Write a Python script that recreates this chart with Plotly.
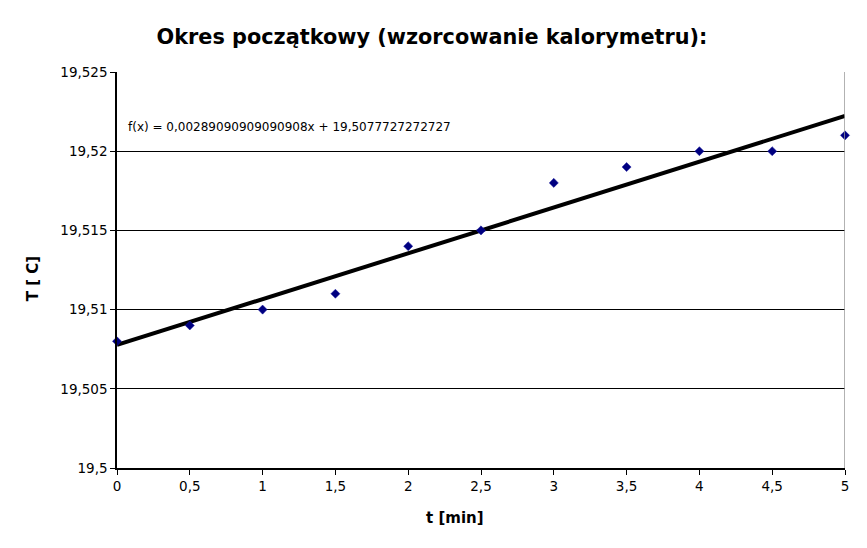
import numpy as np
import plotly.graph_objects as go

t_min = [0, 0.5, 1, 1.5, 2, 2.5, 3, 3.5, 4, 4.5, 5]
temp = [19.508, 19.509, 19.510, 19.511, 19.514, 19.515, 19.518, 19.519, 19.520, 19.520, 19.521]
title = "Okres początkowy (wzorcowanie kalorymetru):"
eq_text = "f(x) = 0,00289090909090908x + 19,5077727272727"
x_title = "t [min]"
y_title = "T [ C]"

slope, intercept = np.polyfit(t_min, temp, 1)
fit_x = [0, 5]
fit_y = [intercept + slope * v for v in fit_x]

fig = go.Figure()
fig.add_trace(go.Scatter(x=fit_x, y=fit_y, mode="lines",
                         line=dict(color="black", width=4), showlegend=False))
fig.add_trace(go.Scatter(x=t_min, y=temp, mode="markers",
                         marker=dict(symbol="diamond", size=7, color="#000080",
                                     line=dict(color="#1a1aa0", width=0.5)),
                         showlegend=False, cliponaxis=False))

fig.add_shape(type="line", xref="x", yref="paper", x0=5, x1=5, y0=0, y1=1,
              line=dict(color="#999999", width=1.5))

fig.add_annotation(x=0.012, y=0.862, xref="paper", yref="paper", text=eq_text,
                   showarrow=False, xanchor="left", yanchor="middle",
                   font=dict(family="DejaVu Sans", size=12, color="black"))
fig.add_annotation(x=0.4636, y=-50 / 396, xref="paper", yref="paper", text="<b>" + x_title + "</b>",
                   showarrow=False, xanchor="center", yanchor="middle",
                   font=dict(family="DejaVu Sans", size=15, color="black"))
fig.add_annotation(x=-84 / 729, y=0.477, xref="paper", yref="paper", text="<b>" + y_title + "</b>",
                   showarrow=False, xanchor="center", yanchor="middle", textangle=-90,
                   font=dict(family="DejaVu Sans", size=15, color="black"))

fig.update_layout(
    width=867, height=548,
    margin=dict(l=109, r=30, t=64, b=88),
    paper_bgcolor="white", plot_bgcolor="white",
    separators=", ",
    font=dict(family="DejaVu Sans", size=13, color="black"),
    title=dict(text="<b>" + title + "</b>", x=(432 - 8) / 867, xanchor="center",
               y=1 - 29 / 548, yanchor="middle",
               font=dict(family="DejaVu Sans", size=20.8, color="black")),
    xaxis=dict(range=[0, 5], tickvals=[0, 0.5, 1, 1.5, 2, 2.5, 3, 3.5, 4, 4.5, 5],
               showgrid=False, zeroline=False, showline=True, linecolor="black", linewidth=1.5,
               ticks="outside", ticklen=5, tickcolor="black",
               tickfont=dict(size=13.5)),
    yaxis=dict(range=[19.5, 19.525], tickvals=[19.5, 19.505, 19.51, 19.515, 19.52, 19.525],
               showgrid=True, gridcolor="black", gridwidth=1, zeroline=False,
               showline=True, linecolor="black", linewidth=1.5,
               ticks="outside", ticklen=5, tickcolor="black",
               tickfont=dict(size=13.5)),
)

fig.write_html("out.html")
